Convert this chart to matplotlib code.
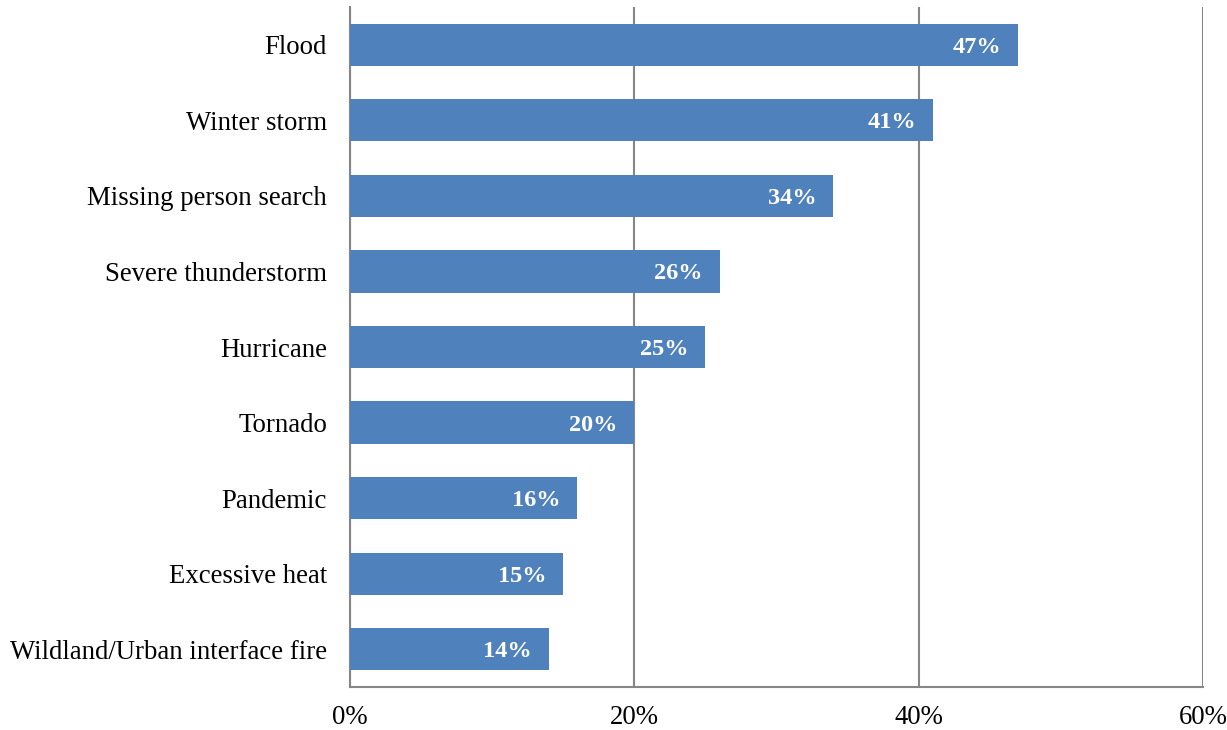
import matplotlib.pyplot as plt

# survey results: share of respondents per incident type
incidents = ["Flood", "Winter storm", "Missing person search", "Severe thunderstorm",
             "Hurricane", "Tornado", "Pandemic", "Excessive heat",
             "Wildland/Urban interface fire"]
shares = [47, 41, 34, 26, 25, 20, 16, 15, 14]
xticks = [0, 20, 40, 60]

plt.rcParams['font.family'] = ['Liberation Serif', 'DejaVu Serif']

fig = plt.figure(figsize=(12.27, 7.3), dpi=100)
ax = fig.add_axes([0.2852, 0.0589, 0.6952, 0.9315])

# first category at the top
ypos = list(range(len(incidents)))[::-1]
ax.barh(ypos, shares, height=0.56, color='#4F81BD', zorder=3)

for y, v in zip(ypos, shares):
    ax.text(v - 1.2, y, f"{v}%", ha='right', va='center_baseline', color='white',
            fontsize=17.5, fontweight='bold', zorder=4)

ax.set_xlim(0, 60)
ax.set_ylim(-0.5, len(incidents) - 0.5)
ax.set_yticks(ypos)
ax.set_yticklabels(incidents, fontsize=19.3)
ax.set_xticks(xticks)
ax.set_xticklabels([f"{t}%" for t in xticks], fontsize=19.3)
ax.tick_params(axis='both', length=0)
ax.tick_params(axis='x', pad=13)
ax.tick_params(axis='y', pad=16.5)

ax.grid(axis='x', color='#868686', linewidth=1.5, zorder=0)
for side in ['top', 'right']:
    ax.spines[side].set_visible(False)
for side in ['left', 'bottom']:
    ax.spines[side].set_color('#868686')
    ax.spines[side].set_linewidth(1.5)

fig.savefig('out.png', dpi=100)
